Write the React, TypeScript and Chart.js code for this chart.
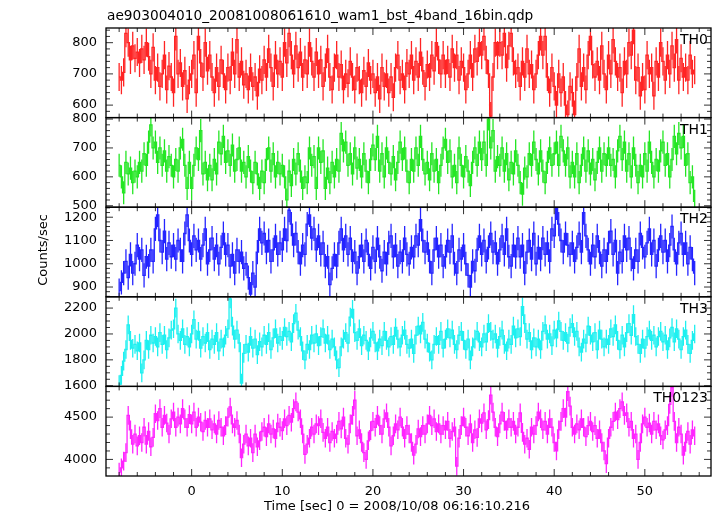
import React, { useEffect, useRef } from 'react';
import { Chart, registerables } from 'chart.js';

Chart.register(...registerables);

const TITLE = 'ae903004010_20081008061610_wam1_bst_4band_16bin.qdp';
const X_TITLE = 'Time [sec] 0 = 2008/10/08 06:16:10.216';
const Y_TITLE = 'Counts/sec';

// bin grid: first bin centre and bin width (sec)
const T_START = -8;
const BIN = 0.25;

const bandNames = ['TH0', 'TH1', 'TH2', 'TH3', 'TH0123'];

const th0 = [
  690, 680, 705, 830, 800, 745, 790, 750,
  770, 735, 780, 745, 800, 755, 700, 785,
  680, 720, 660, 700, 760, 650, 725, 690,
  640, 820, 700, 735, 660, 710, 620, 680,
  700, 760, 640, 820, 735, 690, 800, 710,
  760, 690, 640, 720, 660, 745, 700, 650,
  720, 680, 770, 700, 810, 690, 740, 665,
  700, 650, 720, 660, 690, 630, 715, 680,
  745, 690, 780, 720, 660, 760, 700, 740,
  690, 800, 735, 830, 760, 700, 790, 720,
  770, 690, 745, 700, 800, 740, 690, 770,
  700, 745, 660, 720, 780, 690, 650, 720,
  760, 690, 730, 650, 700, 670, 740, 690,
  650, 720, 680, 640, 710, 660, 735, 680,
  700, 640, 690, 620, 720, 660, 700, 640,
  690, 625, 720, 760, 680, 700, 650, 735,
  700, 760, 680, 740, 690, 770, 710, 660,
  730, 690, 760, 710, 800, 745, 700, 760,
  700, 745, 690, 780, 720, 760, 680, 740,
  720, 650, 700, 760, 690, 780, 740, 800,
  760, 820, 745, 700, 565, 690, 800, 760,
  800, 760, 830, 720, 790, 830, 740, 700,
  720, 660, 740, 690, 780, 700, 730, 650,
  700, 760, 820, 760, 820, 690, 640, 720,
  660, 600, 700, 640, 690, 600, 570, 660,
  640, 570, 690, 780, 660, 720, 650, 760,
  820, 730, 690, 740, 680, 790, 700, 650,
  760, 700, 810, 740, 690, 720, 640, 740,
  700, 800, 760, 840, 680, 720, 630, 690,
  650, 760, 700, 720, 630, 740, 690, 800,
  740, 680, 760, 700, 790, 720, 810, 680,
  750, 690, 720, 680, 760, 700, 712,
];

const th1 = [
  640, 600, 545, 650, 610, 630, 580, 620,
  600, 650, 620, 680, 640, 720, 780, 700,
  720, 650, 700, 640, 690, 620, 670, 640,
  600, 660, 620, 700, 730, 640, 560, 650,
  560, 640, 700, 660, 760, 610, 650, 590,
  640, 590, 660, 610, 720, 680, 740, 650,
  690, 640, 710, 620, 660, 700, 620, 650,
  600, 670, 620, 580, 650, 610, 560, 620,
  580, 660, 700, 620, 680, 600, 650, 610,
  640, 600, 520, 620, 570, 660, 610, 680,
  620, 560, 600, 580, 700, 640, 670, 560,
  700, 650, 690, 560, 630, 580, 650, 600,
  660, 620, 750, 690, 720, 640, 680, 610,
  700, 630, 660, 600, 680, 620, 580, 660,
  710, 660, 740, 620, 680, 600, 700, 650,
  610, 670, 590, 650, 720, 660, 700, 620,
  580, 660, 620, 700, 640, 740, 660, 610,
  650, 590, 680, 620, 660, 580, 640, 700,
  730, 650, 690, 600, 640, 580, 700, 640,
  600, 670, 620, 570, 650, 700, 640, 720,
  660, 720, 640, 800, 700, 760, 620, 670,
  640, 700, 620, 680, 590, 650, 610, 690,
  640, 580, 540, 630, 600, 680, 640, 720,
  660, 610, 690, 620, 580, 650, 700, 640,
  680, 720, 640, 740, 690, 640, 700, 600,
  650, 600, 680, 580, 640, 700, 620, 690,
  610, 660, 590, 650, 700, 620, 680, 640,
  700, 640, 660, 600, 690, 740, 660, 720,
  620, 680, 600, 700, 640, 580, 640, 600,
  680, 620, 720, 650, 600, 660, 620, 690,
  720, 640, 680, 600, 660, 740, 680, 750,
  700, 740, 640, 680, 580, 600, 515,
];

const th2 = [
  885, 920, 960, 1010, 940, 1040, 960, 1000,
  1080, 1020, 1060, 950, 1030, 990, 1060, 1010,
  1150, 1210, 1100, 1050, 1140, 1020, 1090, 1030,
  1080, 1020, 1100, 1060, 1010, 1130, 1210, 1100,
  1040, 1120, 1060, 1100, 1020, 1080, 1150, 1000,
  1060, 1110, 1020, 1080, 1000, 1070, 1130, 1040,
  1080, 990, 1040, 960, 1060, 1010, 1050, 980,
  1000, 940, 870, 960, 900, 1050, 1150, 1090,
  1130, 1050, 1100, 1010, 1060, 1120, 1040, 1090,
  1060, 1150, 1100, 1230, 1170, 1080, 1130, 1050,
  1000, 1080, 1040, 1170, 1210, 1110, 1150, 1060,
  1120, 1040, 1090, 990, 1030, 910, 980, 1040,
  990, 1090, 1150, 1060, 1120, 1040, 1110, 1010,
  1050, 960, 1030, 1080, 1010, 1100, 1040, 980,
  1070, 1010, 1110, 1030, 970, 1050, 1000, 1090,
  1120, 1030, 1080, 990, 1050, 1010, 1110, 1040,
  1000, 1070, 1030, 1120, 1080, 1190, 1100, 1050,
  1090, 1010, 960, 1060, 1110, 1030, 1080, 990,
  1030, 1100, 1050, 1120, 1000, 960, 1060, 1020,
  1080, 1000, 950, 900, 1010, 970, 1060, 1120,
  1040, 1100, 1010, 1070, 1130, 1050, 1090, 1000,
  1060, 1120, 1040, 1150, 1030, 990, 1080, 1030,
  1110, 1030, 1080, 960, 1050, 1100, 1020, 1130,
  1000, 1070, 1020, 1110, 1040, 1090, 1010, 1150,
  1120, 1240, 1170, 1100, 1050, 1130, 1080, 1040,
  1090, 1010, 1070, 1130, 1050, 1220, 1120, 1060,
  1000, 1080, 1030, 1120, 1050, 990, 1060, 1010,
  1090, 1140, 1040, 1100, 960, 1050, 1010, 1120,
  1060, 1110, 1020, 980, 1060, 1010, 1130, 1070,
  1030, 1090, 1150, 1040, 1100, 990, 1060, 1120,
  1050, 1100, 1010, 1080, 1160, 1060, 1000, 1090,
  1130, 1040, 1090, 1000, 1070, 1020, 960,
];

const th3 = [
  1610, 1680, 1790, 1880, 2070, 1950, 1890, 1920,
  1870, 1930, 1700, 1800, 1950, 1880, 1990, 1930,
  1980, 1900, 2010, 1920, 1990, 1880, 1970, 2030,
  2040, 2200, 2000, 1950, 2040, 1920, 1980, 1900,
  2000, 2110, 1960, 2020, 1890, 1980, 1930, 2010,
  1880, 1960, 1920, 2010, 1870, 1960, 1900, 1990,
  2040, 2270, 2060, 1960, 2030, 1930, 1620, 1850,
  1920, 1860, 1980, 1890, 1960, 1840, 1940, 1900,
  1990, 1920, 2010, 1880, 1970, 2040, 1930, 1980,
  1950, 2050, 1980, 2020, 1940, 2080, 2160, 2030,
  1980, 1870, 1800, 1920, 1880, 1990, 1930, 2000,
  1910, 1980, 2040, 1930, 1990, 1880, 1960, 1900,
  1800, 1740, 1900, 1960, 2010, 1930, 2130, 2190,
  2010, 1950, 2040, 1910, 1990, 1950, 1870, 1970,
  2020, 1930, 1870, 1960, 1910, 2020, 1950, 1900,
  1980, 1920, 2050, 1960, 1900, 1990, 2030, 1920,
  1890, 1960, 1850, 1990, 2060, 2000, 2090, 1960,
  1930, 1860, 1800, 1920, 1980, 1920, 2020, 1890,
  1960, 2040, 1970, 2030, 1920, 1880, 1990, 2020,
  1950, 1880, 1960, 1800, 1900, 1960, 2020, 1940,
  1900, 2000, 1940, 2080, 2020, 1960, 2000, 1890,
  1980, 2030, 1920, 1870, 1960, 1920, 2060, 1970,
  2040, 1980, 2210, 2080, 1960, 2010, 1880, 1970,
  1900, 1960, 1880, 2020, 2070, 1960, 2000, 1910,
  2030, 1970, 2100, 2020, 1950, 2010, 1930, 2050,
  2080, 1980, 2020, 1900, 1860, 1960, 1930, 2060,
  1990, 1940, 2010, 1880, 2030, 1960, 1900, 1960,
  1920, 2040, 1980, 2070, 1950, 1880, 1990, 1900,
  2010, 2080, 1990, 2150, 1980, 1920, 1850, 1960,
  1890, 1980, 2030, 1950, 1990, 1900, 1980, 2020,
  1940, 1990, 1880, 1970, 2050, 1940, 2040, 1960,
  1880, 1980, 2030, 1920, 1850, 1950, 2000,
];

const th0123 = [
  3850, 3900, 3980, 4080, 4520, 4350, 4180, 4300,
  4160, 4280, 4200, 4380, 4180, 4330, 4150, 4260,
  4540, 4460, 4600, 4380, 4520, 4430, 4300, 4480,
  4560, 4380, 4500, 4420, 4600, 4480, 4380, 4530,
  4420, 4560, 4380, 4500, 4440, 4330, 4460, 4380,
  4480, 4350, 4420, 4300, 4460, 4380, 4280, 4400,
  4500, 4620, 4420, 4380, 4460, 4300, 4020, 4180,
  4300, 4160, 4250, 4080, 4300, 4150, 4220, 4330,
  4380, 4270, 4420, 4300, 4360, 4250, 4430, 4380,
  4340, 4480, 4400, 4520, 4440, 4600, 4680, 4560,
  4480, 4300, 4060, 4180, 4250, 4380, 4300, 4420,
  4400, 4480, 4320, 4250, 4380, 4200, 4330, 4250,
  4300, 4450, 4360, 4500, 4250, 4180, 4420, 4520,
  4700, 4280, 4350, 4200, 4080, 4000, 4220, 4340,
  4450, 4380, 4520, 4400, 4300, 4480, 4550, 4380,
  4160, 4280, 4420, 4350, 4500, 4380, 4250, 4400,
  4300, 4200, 4050, 4180, 4360, 4270, 4400, 4300,
  4420, 4520, 4400, 4480, 4330, 4420, 4300, 4400,
  4350, 4450, 4250, 4330, 4380, 3920, 4250, 4400,
  4500, 4380, 4280, 4420, 4200, 4350, 4260, 4480,
  4430, 4550, 4350, 4470, 4760, 4560, 4380, 4270,
  4420, 4560, 4450, 4350, 4480, 4380, 4450, 4300,
  4380, 4550, 4320, 4180, 4250, 4120, 4380, 4300,
  4400, 4560, 4480, 4350, 4450, 4300, 4480, 4380,
  4200, 4100, 4350, 4450, 4600, 4500, 4800, 4630,
  4380, 4300, 4420, 4350, 4480, 4380, 4270, 4400,
  4450, 4330, 4400, 4250, 4350, 4200, 4100, 3950,
  4250, 4380, 4450, 4560, 4470, 4600, 4680, 4520,
  4550, 4380, 4450, 4250, 4300, 4000, 4200, 4420,
  4500, 4380, 4430, 4300, 4450, 4350, 4420, 4280,
  4230, 4350, 4400, 4650, 4850, 4450, 4200, 4380,
  4300, 4050, 4200, 4330, 4180, 4350, 4280,
];

const bandValues = [th0, th1, th2, th3, th0123];
const bandErrors = [45, 40, 52, 72, 110];

const yMins = [560, 495, 858, 1595, 3804];
const yMaxs = [847, 805, 1243, 2287, 4863];
const yTickValues = [
  [600, 700, 800],
  [500, 600, 700, 800],
  [900, 1000, 1100, 1200],
  [1600, 1800, 2000, 2200],
  [4000, 4500],
];
const yMajorSteps = [100, 100, 100, 200, 500];
const yMinorSteps = [20, 20, 20, 50, 100];

const X_MIN = -9.45;
const X_MAX = 57.3;
const xTickValues = [0, 10, 20, 30, 40, 50];
const X_MAJOR = 10;
const X_MINOR = 2;

const bandColors = ['#ff2424', '#24e624', '#2424ff', '#1ef0f0', '#ff24ff'];

const FONT = '"DejaVu Sans", "Liberation Sans", sans-serif';

const panelPlugin = {
  id: 'qdpPanels',
  beforeDatasetDraw(chart: any, args: any) {
    const i = args.index;
    const ds = chart.data.datasets[i];
    const ys = chart.scales[ds.yAxisID];
    const xs = chart.scales.x;
    const a = chart.chartArea;
    const ctx = chart.ctx;
    ctx.save();
    ctx.beginPath();
    ctx.rect(a.left, ys.top, a.right - a.left, ys.bottom - ys.top);
    ctx.clip();
    const err = bandErrors[i];
    ctx.strokeStyle = ds.borderColor;
    ctx.lineWidth = 1.3;
    ctx.beginPath();
    for (const p of ds.data) {
      const x = xs.getPixelForValue(p.x);
      ctx.moveTo(x, ys.getPixelForValue(p.y - err));
      ctx.lineTo(x, ys.getPixelForValue(p.y + err));
    }
    ctx.stroke();
  },
  afterDatasetDraw(chart: any) {
    chart.ctx.restore();
  },
  afterDraw(chart: any) {
    const ctx = chart.ctx;
    const a = chart.chartArea;
    const xs = chart.scales.x;
    ctx.save();
    ctx.strokeStyle = '#333';
    ctx.lineWidth = 1;
    ctx.beginPath();
    bandNames.forEach((_, i) => {
      const ys = chart.scales['y' + i];
      const t0 = Math.ceil(X_MIN / X_MINOR) * X_MINOR;
      for (let t = t0; t <= X_MAX; t += X_MINOR) {
        const x = xs.getPixelForValue(t);
        const len = t % X_MAJOR === 0 ? 7 : 4;
        ctx.moveTo(x, ys.top);
        ctx.lineTo(x, ys.top + len);
        ctx.moveTo(x, ys.bottom);
        ctx.lineTo(x, ys.bottom - len);
      }
      const mn = yMinorSteps[i];
      const v0 = Math.ceil(yMins[i] / mn) * mn;
      for (let v = v0; v <= yMaxs[i]; v += mn) {
        const y = ys.getPixelForValue(v);
        const len = v % yMajorSteps[i] === 0 ? 7 : 4;
        ctx.moveTo(a.left, y);
        ctx.lineTo(a.left + len, y);
        ctx.moveTo(a.right, y);
        ctx.lineTo(a.right - len, y);
      }
    });
    ctx.stroke();
    ctx.strokeStyle = '#000';
    ctx.lineWidth = 1.3;
    bandNames.forEach((_, i) => {
      const ys = chart.scales['y' + i];
      ctx.strokeRect(a.left, ys.top, a.right - a.left, ys.bottom - ys.top);
    });
    ctx.fillStyle = '#000';
    ctx.textBaseline = 'alphabetic';
    ctx.font = '13.7px ' + FONT;
    ctx.textAlign = 'left';
    ctx.fillText(TITLE, 107, 20);
    ctx.font = '14px ' + FONT;
    ctx.textAlign = 'right';
    bandNames.forEach((name, i) => {
      const ys = chart.scales['y' + i];
      ctx.fillText(name, a.right - 3, ys.top + 16);
    });
    ctx.font = '13px ' + FONT;
    ctx.textAlign = 'center';
    ctx.fillText(X_TITLE, 397, 510);
    ctx.translate(47, 250);
    ctx.rotate(-Math.PI / 2);
    ctx.fillText(Y_TITLE, 0, 0);
    ctx.restore();
  },
};

export default function App() {
  const canvasRef = useRef<HTMLCanvasElement | null>(null);

  useEffect(() => {
    const canvas = canvasRef.current;
    if (!canvas) return;
    const times = th0.map((_, i) => T_START + i * BIN);
    const datasets = bandValues.map((vals, i) => ({
      label: bandNames[i],
      data: vals.map((v, k) => ({ x: times[k], y: v })),
      yAxisID: 'y' + i,
      xAxisID: 'x',
      borderColor: bandColors[i],
      borderWidth: 1.3,
      pointRadius: 0,
      stepped: 'middle' as const,
      fill: false,
      tension: 0,
    }));

    const tickFont = { family: FONT, size: 13 };
    const scales: any = {
      x: {
        type: 'linear',
        position: 'bottom',
        min: X_MIN,
        max: X_MAX,
        grid: { display: false, drawTicks: false },
        border: { display: false },
        afterBuildTicks: (s: any) => {
          s.ticks = xTickValues.map((value) => ({ value }));
        },
        ticks: {
          autoSkip: false,
          maxRotation: 0,
          padding: 8,
          color: '#000',
          font: tickFont,
          callback: (v: any) => String(v),
        },
        afterFit: (s: any) => {
          s.height = 40;
        },
      },
    };
    for (let i = bandNames.length - 1; i >= 0; i--) {
      const tv = yTickValues[i];
      scales['y' + i] = {
        type: 'linear',
        position: 'left',
        stack: 'panels',
        stackWeight: 1,
        min: yMins[i],
        max: yMaxs[i],
        grid: { display: false, drawTicks: false },
        border: { display: false },
        afterBuildTicks: (s: any) => {
          s.ticks = tv.map((value) => ({ value }));
        },
        ticks: {
          autoSkip: false,
          padding: 9,
          color: '#000',
          font: tickFont,
          callback: (v: any) => String(v),
        },
        afterFit: (s: any) => {
          s.width = 106;
        },
      };
    }

    const chart = new Chart(canvas, {
      type: 'line',
      data: { datasets },
      options: {
        responsive: false,
        animation: false,
        devicePixelRatio: 1,
        layout: { padding: { top: 28, right: 6, bottom: 0, left: 0 } },
        plugins: {
          legend: { display: false },
          tooltip: { enabled: false },
          title: { display: false },
        },
        scales,
      },
      plugins: [panelPlugin],
    } as any);
    return () => chart.destroy();
  }, []);

  return (
    <div style={{ position: 'absolute', left: 0, top: 0, width: 717, height: 516, background: '#fff' }}>
      <canvas ref={canvasRef} width={717} height={516} style={{ width: 717, height: 516, display: 'block' }} />
    </div>
  );
}
